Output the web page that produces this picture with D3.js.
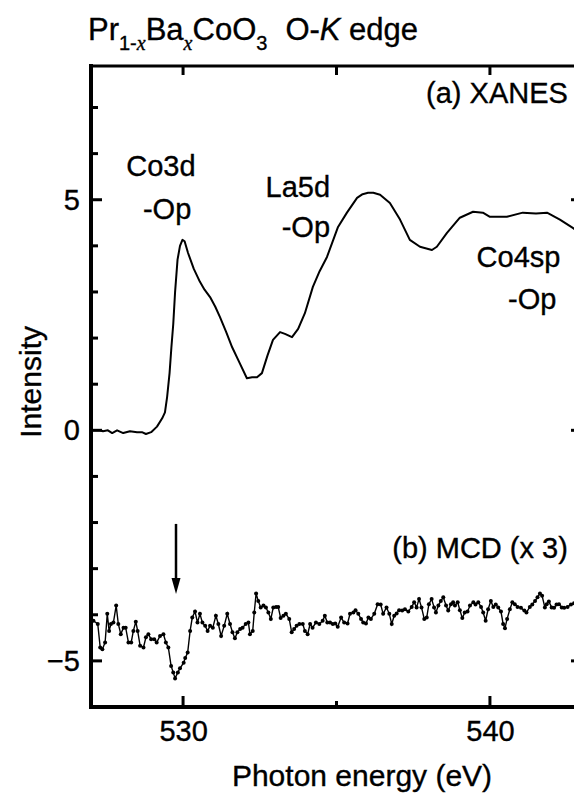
<!DOCTYPE html>
<html>
<head>
<meta charset="utf-8">
<script src="https://cdn.jsdelivr.net/npm/d3@7"></script>
<style>
  body { margin: 0; background: #fff; }
  svg { font-family: "Liberation Sans", Arial, Helvetica, sans-serif; }
  svg text { fill: #000; stroke: #000; stroke-width: 0.35px; }
  .axis text { font-size: 29px; }
</style>
</head>
<body>
<svg id="chart" width="574" height="796"></svg>
<script>
// XANES, O-K edge: [photon energy (eV), intensity]
const xanes = [
  [527.00, 0.00], [527.30, 0.00], [527.39, -0.02], [527.55, 0.00], [527.69, -0.06],
  [527.85, 0.00], [528.05, -0.06], [528.27, -0.02], [528.50, -0.04], [528.66, -0.04],
  [528.79, -0.08], [528.96, -0.04], [529.15, 0.08], [529.32, 0.26], [529.41, 0.39],
  [529.48, 0.72], [529.56, 1.24], [529.62, 1.80], [529.68, 2.30], [529.74, 3.00],
  [529.82, 3.70], [529.90, 4.00], [529.98, 4.13], [530.05, 4.10], [530.16, 3.85],
  [530.35, 3.50], [530.55, 3.22], [530.70, 3.05], [530.88, 2.89], [531.05, 2.68],
  [531.20, 2.46], [531.40, 2.14], [531.60, 1.80], [531.85, 1.45], [532.08, 1.13],
  [532.25, 1.15], [532.41, 1.15], [532.57, 1.24], [532.75, 1.62], [532.93, 1.96],
  [533.16, 2.13], [533.32, 2.09], [533.55, 2.02], [533.75, 2.20], [533.97, 2.54],
  [534.23, 3.11], [534.45, 3.45], [534.69, 3.76], [535.05, 4.41], [535.34, 4.72],
  [535.67, 5.04], [535.85, 5.12], [536.03, 5.15], [536.20, 5.15], [536.42, 5.11],
  [536.74, 4.93], [537.07, 4.57], [537.39, 4.13], [537.72, 3.98], [538.11, 3.91],
  [538.27, 3.98], [538.60, 4.28], [539.02, 4.61], [539.45, 4.74], [539.77, 4.72],
  [540.00, 4.63], [540.55, 4.63], [541.07, 4.72], [541.50, 4.70], [541.86, 4.72],
  [542.28, 4.57], [542.70, 4.39], [543.00, 4.25]
];

// MCD (x 3): [photon energy (eV), intensity]
const mcd = [
  [527.08, -4.13], [527.22, -4.20], [527.30, -4.71], [527.37, -4.75], [527.46, -4.60],
  [527.53, -3.98], [527.59, -4.35], [527.65, -4.20], [527.73, -4.17], [527.82, -3.80],
  [527.89, -4.20], [527.97, -4.42], [528.06, -4.28], [528.13, -4.28], [528.22, -4.60],
  [528.31, -4.60], [528.38, -4.35], [528.46, -4.15], [528.52, -4.35], [528.60, -4.67],
  [528.71, -4.71], [528.79, -4.49], [528.87, -4.42], [528.96, -4.53], [529.06, -4.53],
  [529.14, -4.60], [529.25, -4.46], [529.36, -4.42], [529.44, -4.60], [529.52, -4.71],
  [529.61, -5.11], [529.68, -5.25], [529.74, -5.38], [529.83, -5.25], [529.90, -5.16],
  [530.02, -5.04], [530.07, -4.94], [530.15, -4.82], [530.23, -4.35], [530.30, -4.06],
  [530.39, -3.93], [530.47, -4.17], [530.55, -3.98], [530.63, -4.17], [530.72, -4.24],
  [530.80, -4.35], [530.88, -4.24], [530.97, -4.28], [531.07, -4.02], [531.15, -4.20],
  [531.24, -4.46], [531.34, -4.24], [531.44, -3.98], [531.53, -4.20], [531.61, -4.38],
  [531.69, -4.51], [531.77, -4.38], [531.86, -4.31], [531.94, -4.28], [532.04, -4.20],
  [532.13, -4.17], [532.18, -4.42], [532.27, -4.35], [532.32, -3.95], [532.38, -3.54],
  [532.45, -3.70], [532.53, -3.84], [532.62, -3.80], [532.70, -3.84], [532.78, -3.95],
  [532.86, -4.09], [532.94, -3.84], [533.03, -3.83], [533.10, -3.83], [533.18, -4.07],
  [533.27, -4.02], [533.35, -3.98], [533.46, -4.09], [533.54, -4.38], [533.62, -4.31],
  [533.70, -4.24], [533.79, -4.20], [533.90, -4.20], [533.97, -4.35], [534.06, -4.42],
  [534.14, -4.20], [534.22, -4.28], [534.33, -4.17], [534.44, -4.20], [534.55, -4.13],
  [534.62, -4.02], [534.70, -4.17], [534.79, -4.17], [534.88, -4.20], [534.96, -4.19],
  [535.04, -4.26], [535.15, -4.06], [535.25, -4.17], [535.36, -4.19], [535.44, -3.98],
  [535.55, -3.95], [535.62, -3.90], [535.71, -3.98], [535.80, -4.09], [535.87, -4.17],
  [535.96, -4.19], [536.04, -4.06], [536.12, -4.09], [536.23, -3.98], [536.34, -3.77],
  [536.44, -3.78], [536.52, -3.98], [536.63, -3.84], [536.72, -3.98], [536.80, -4.20],
  [536.88, -4.02], [536.96, -3.97], [537.04, -3.90], [537.14, -3.91], [537.23, -3.88],
  [537.34, -3.93], [537.45, -3.83], [537.53, -3.73], [537.61, -3.84], [537.69, -3.66],
  [537.77, -3.84], [537.86, -4.09], [537.94, -4.06], [538.01, -3.77], [538.10, -3.66],
  [538.18, -3.84], [538.24, -3.95], [538.32, -3.80], [538.40, -3.70], [538.48, -3.62],
  [538.57, -3.80], [538.64, -3.91], [538.73, -3.77], [538.80, -3.73], [538.86, -3.80],
  [538.95, -3.73], [539.02, -3.90], [539.10, -4.07], [539.18, -3.95], [539.27, -3.93],
  [539.35, -3.80], [539.46, -3.73], [539.53, -3.78], [539.62, -3.73], [539.71, -3.83],
  [539.78, -3.95], [539.86, -4.13], [539.94, -3.88], [540.03, -3.70], [540.11, -3.83],
  [540.19, -3.78], [540.27, -3.84], [540.36, -3.93], [540.43, -4.20], [540.49, -4.29],
  [540.56, -4.09], [540.65, -3.88], [540.73, -3.73], [540.81, -3.77], [540.90, -3.83],
  [541.01, -3.85], [541.12, -3.91], [541.19, -3.95], [541.30, -3.83], [541.38, -3.78],
  [541.47, -3.70], [541.55, -3.62], [541.63, -3.54], [541.70, -3.59], [541.79, -3.84],
  [541.85, -3.77], [541.92, -3.71], [542.01, -3.84], [542.09, -3.85], [542.17, -3.78],
  [542.25, -3.77], [542.34, -3.84], [542.42, -3.85], [542.53, -3.83], [542.64, -3.78],
  [542.74, -3.75]
];

const xDomain = [527, 543];
const yDomain = [-6, 7.9];
const xMajorTicks = [530, 540];
const xMinorTicks = [535];
const xTopTicks = [530, 535, 540];
const yMajorTicks = [-5, 0, 5];
const yMinorTicks = [-4, -3, -2, -1, 1, 2, 3, 4, 6, 7];

// annotations: [energy, intensity, text, anchor]
const labels = [
  [529.28, 5.52, 'Co3d', 'middle'],
  [529.48, 4.59, '-Op', 'middle'],
  [534.79, 5.07, 'La5d', 'end'],
  [534.79, 4.20, '-Op', 'end'],
  [540.93, 3.54, 'Co4sp', 'middle'],
  [541.38, 2.63, '-Op', 'middle'],
  [542.54, 7.09, '(a) XANES', 'end'],
  [542.54, -2.76, '(b) MCD (x 3)', 'end']
];
// arrow marking the MCD dip: energy, from / to intensity
const arrowE = 529.77;
const arrowFrom = -2.03;
const arrowTo = -3.55;

const svg = d3.select('#chart');
const margin = {left: 91, top: 66, bottom: 89};
const plotRight = 582;
const plotBottom = 796 - margin.bottom;

const x = d3.scaleLinear().domain(xDomain).range([margin.left, plotRight]);
const y = d3.scaleLinear().domain(yDomain).range([plotBottom, margin.top]);

svg.append('clipPath').attr('id', 'clip')
  .append('rect')
  .attr('x', margin.left).attr('y', margin.top)
  .attr('width', plotRight - margin.left).attr('height', plotBottom - margin.top);

// Title
const title = svg.append('text')
  .attr('x', 88).attr('y', 40)
  .attr('font-size', 31);
title.append('tspan').text('Pr');
title.append('tspan').attr('font-size', 20).attr('dy', 10).text('1-');
title.append('tspan').attr('font-size', 20).attr('font-family', 'Liberation Serif').attr('font-style', 'italic').text('x');
title.append('tspan').attr('dy', -10).text('Ba');
title.append('tspan').attr('font-size', 20).attr('dy', 10).attr('font-family', 'Liberation Serif').attr('font-style', 'italic').text('x');
title.append('tspan').attr('dy', -10).text('CoO');
title.append('tspan').attr('font-size', 20).attr('dy', 10).text('3');
title.append('tspan').attr('dy', -10).attr('dx', 18).text('O-');
title.append('tspan').attr('font-style', 'italic').text('K');
title.append('tspan').text(' edge');

// Frame
const frame = svg.append('g').attr('stroke', '#000').attr('stroke-linecap', 'square');
frame.append('line')
  .attr('x1', margin.left).attr('x2', margin.left)
  .attr('y1', margin.top).attr('y2', plotBottom).attr('stroke-width', 4);
frame.append('line')
  .attr('x1', margin.left).attr('x2', plotRight)
  .attr('y1', plotBottom).attr('y2', plotBottom).attr('stroke-width', 4);
frame.append('line')
  .attr('x1', margin.left).attr('x2', plotRight)
  .attr('y1', margin.top).attr('y2', margin.top).attr('stroke-width', 3);
frame.append('line')
  .attr('x1', plotRight).attr('x2', plotRight)
  .attr('y1', margin.top).attr('y2', plotBottom).attr('stroke-width', 4);

// Ticks (all pointing inward)
function xTicks(values, yBase, len) {
  frame.selectAll(null)
    .data(values)
    .join('line')
    .attr('x1', d => x(d)).attr('x2', d => x(d))
    .attr('y1', yBase).attr('y2', yBase + len)
    .attr('stroke-width', 3)
    .attr('stroke-linecap', 'butt');
}
function yTicks(values, xBase, len) {
  frame.selectAll(null)
    .data(values)
    .join('line')
    .attr('x1', xBase).attr('x2', xBase + len)
    .attr('y1', d => y(d)).attr('y2', d => y(d))
    .attr('stroke-width', 3)
    .attr('stroke-linecap', 'butt');
}
xTicks(xMajorTicks, plotBottom, -11);
xTicks(xMinorTicks, plotBottom, -6);
xTicks(xTopTicks, margin.top, 9);
yTicks(yMajorTicks, margin.left, 11);
yTicks(yMinorTicks, margin.left, 7);
yTicks(yMajorTicks, plotRight, -11);

// Tick labels via d3 axes (lines hidden)
svg.append('g').attr('class', 'axis')
  .attr('transform', 'translate(0,' + plotBottom + ')')
  .call(d3.axisBottom(x).tickValues(xMajorTicks).tickSize(0).tickPadding(13))
  .call(g => g.select('.domain').remove());

svg.append('g').attr('class', 'axis')
  .attr('transform', 'translate(' + margin.left + ',0)')
  .call(d3.axisLeft(y).tickValues(yMajorTicks).tickSize(0).tickPadding(11))
  .call(g => g.select('.domain').remove());

// Axis titles
svg.append('text')
  .attr('x', 362)
  .attr('y', 786)
  .attr('text-anchor', 'middle')
  .attr('font-size', 30)
  .text('Photon energy (eV)');

svg.append('text')
  .attr('transform', 'translate(41,' + y(1.05) + ') rotate(-90)')
  .attr('text-anchor', 'middle')
  .attr('font-size', 30)
  .text('Intensity');

// Curves
const line = d3.line().x(d => x(d[0])).y(d => y(d[1]));
const curves = svg.append('g').attr('clip-path', 'url(#clip)');

curves.append('path')
  .datum(xanes)
  .attr('d', line)
  .attr('fill', 'none')
  .attr('stroke', '#000')
  .attr('stroke-width', 2)
  .attr('stroke-linejoin', 'round');

curves.append('path')
  .datum(mcd)
  .attr('d', line)
  .attr('fill', 'none')
  .attr('stroke', '#000')
  .attr('stroke-width', 1.4);

curves.selectAll('circle.mcd')
  .data(mcd)
  .join('circle')
  .attr('class', 'mcd')
  .attr('cx', d => x(d[0]))
  .attr('cy', d => y(d[1]))
  .attr('r', 2)
  .attr('fill', '#000');

// Arrow
svg.append('line')
  .attr('x1', x(arrowE)).attr('x2', x(arrowE))
  .attr('y1', y(arrowFrom)).attr('y2', y(arrowTo) - 12)
  .attr('stroke', '#000')
  .attr('stroke-width', 2.5);
svg.append('path')
  .attr('d', 'M' + (x(arrowE) - 4.5) + ',' + (y(arrowTo) - 16) +
    'L' + (x(arrowE) + 4.5) + ',' + (y(arrowTo) - 16) +
    'L' + x(arrowE) + ',' + y(arrowTo) + 'Z')
  .attr('fill', '#000');

// Annotations
svg.selectAll('text.label')
  .data(labels)
  .join('text')
  .attr('class', 'label')
  .attr('x', d => x(d[0]))
  .attr('y', d => y(d[1]))
  .attr('text-anchor', d => d[3])
  .attr('font-size', 29)
  .text(d => d[2]);
</script>
</body>
</html>
